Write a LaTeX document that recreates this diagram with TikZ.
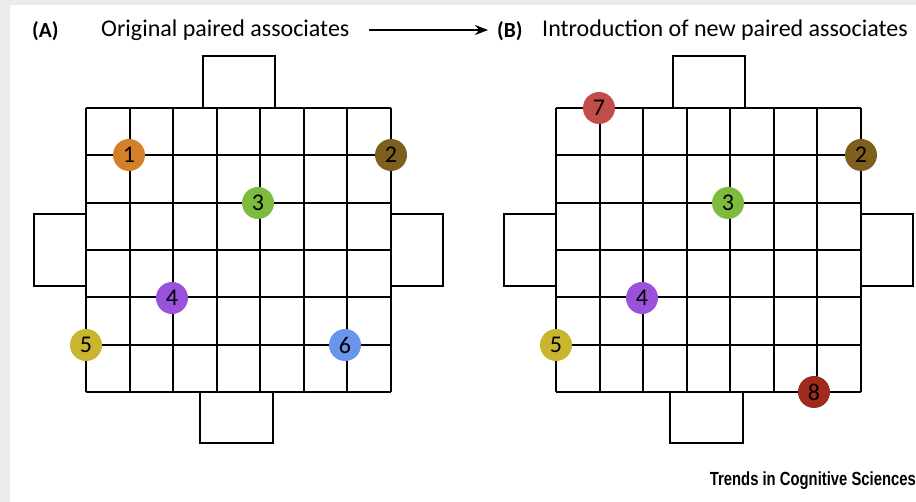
\documentclass[tikz,border=0pt]{standalone}
\usepackage{fontspec}
\setmainfont{Carlito}
\newfontfamily\trendsfont{Liberation Sans}
\usetikzlibrary{arrows.meta}
\definecolor{bggray}{HTML}{ECECEE}
\definecolor{cA}{HTML}{D4802A}
\definecolor{cB}{HTML}{7E5F1D}
\definecolor{cC}{HTML}{7DBB3F}
\definecolor{cD}{HTML}{9952D9}
\definecolor{cE}{HTML}{C9B52E}
\definecolor{cF}{HTML}{6B94EC}
\definecolor{cG}{HTML}{C24E4A}
\definecolor{cH}{HTML}{A02A1E}
\tikzset{
  gridline/.style={line width=2.1pt, black},
  sidebox/.style={draw=black, line width=2.1pt, fill=white},
  assoc/.style={circle, minimum size=32pt, inner sep=0pt, font=\fontsize{24}{24}\selectfont, text=black},
  ttl/.style={anchor=west, font=\fontsize{24}{24}\selectfont, inner sep=0pt},
  lbl/.style={anchor=west, font=\fontsize{21.5}{21.5}\selectfont\bfseries, inner sep=0pt},
}
\newcommand{\arena}[1]{%
  \begin{scope}[xshift=#1pt]
    \fill[white] (86,108) rectangle (391,392);
    \foreach \i in {0,...,7} {\draw[gridline] (86+43.57*\i,108) -- (86+43.57*\i,392);}
    \foreach \j in {0,...,6} {\draw[gridline] (86,108+47.33*\j) -- (391,108+47.33*\j);}
    \draw[sidebox] (203,56) rectangle (275,108);
    \draw[sidebox] (200,392) rectangle (273,443);
    \draw[sidebox] (34,214) rectangle (86,286);
    \draw[sidebox] (391,214) rectangle (443,286);
  \end{scope}}
\begin{document}
\begin{tikzpicture}[x=1pt,y=-1pt]
  \useasboundingbox (0,0) rectangle (916,502);
  \fill[bggray] (0,0) rectangle (916,502);
  \fill[white] (10,5) rectangle (916,502);
  \arena{0}
  \arena{470}
  % panel A circles
  \node[assoc, fill=cA] (a1) at (129,155) {1};
  \node[assoc, fill=cB] (a2) at (391,155) {2};
  \node[assoc, fill=cC] (a3) at (258,203) {3};
  \node[assoc, fill=cD] (a4) at (172,298) {4};
  \node[assoc, fill=cE] (a5) at (86,345) {5};
  \node[assoc, fill=cF] (a6) at (345,345) {6};
  % panel B circles
  \node[assoc, fill=cG] (b7) at (599,108) {7};
  \node[assoc, fill=cB] (b2) at (861,155) {2};
  \node[assoc, fill=cC] (b3) at (728,203) {3};
  \node[assoc, fill=cD] (b4) at (642,298) {4};
  \node[assoc, fill=cE] (b5) at (556,345) {5};
  \node[assoc, fill=cH] (b8) at (814,392) {8};
  % titles
  \node[lbl] (la) at (32,31) {(A)};
  \node[ttl] (ta) at (101,30) {Original paired associates};
  \node[lbl] (lb) at (497,31) {(B)};
  \node[ttl] (tb) at (542,30) {Introduction of new paired associates};
  \coordinate (arrs) at (369,30);
  \draw[line width=2pt, shorten >=9pt, -{Stealth[length=13pt,width=10pt]}] (arrs) -- (arrs -| lb.west);
  \node[anchor=east, inner sep=0pt, font=\trendsfont\bfseries\fontsize{19}{19}\selectfont] (src) at (916,481) {\scalebox{0.78}[1]{Trends in Cognitive Sciences}};
\end{tikzpicture}
\end{document}
